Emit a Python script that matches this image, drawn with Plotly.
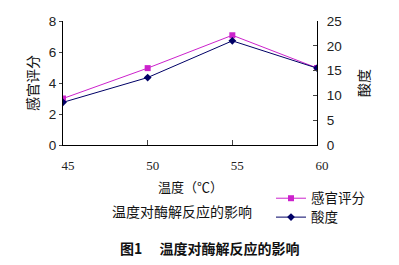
import plotly.graph_objects as go

temps = [45, 50, 55, 60]
sensory = [3.0, 4.96, 7.08, 4.97]
acidity = [8.6, 13.6, 21.0, 15.5]
left_ticks = [0, 2, 4, 6, 8]
right_ticks = [0, 5, 10, 15, 20, 25]

W, H = 399, 265
L, R, T, B = 63, 317, 20.7, 145.3
pw, ph = R - L, B - T

def px(x):
    return (x - L) / pw

def py(y):
    return (B - y) / ph

cjk = "Noto Sans CJK SC"
fig = go.Figure()
fig.add_trace(go.Scatter(x=temps, y=sensory, name="感官评分", mode="lines+markers",
                         line=dict(color="#CC22CC", width=1), legend="legend",
                         marker=dict(symbol="square", size=6, color="#CC22CC")))
fig.add_trace(go.Scatter(x=temps, y=acidity, name="酸度", mode="lines+markers", yaxis="y2",
                         line=dict(color="#000066", width=1), legend="legend2",
                         marker=dict(symbol="diamond", size=6, color="#000066")))

leg_common = dict(xanchor="left", yanchor="middle",
                  font=dict(family=cjk, size=13.5, color="#111"),
                  bgcolor="rgba(0,0,0,0)", itemwidth=30, borderwidth=0)

fig.update_layout(
    width=W, height=H,
    margin=dict(l=L, r=W - R, t=T, b=H - B),
    paper_bgcolor="white", plot_bgcolor="white",
    showlegend=True,
    legend=dict(x=px(271), y=py(199), **leg_common),
    legend2=dict(x=px(271), y=py(218), **leg_common),
    xaxis=dict(range=[45, 60], tickvals=temps, ticks="inside", ticklen=5,
               showline=True, linecolor="black", linewidth=1, showgrid=False, zeroline=False,
               tickfont=dict(family="Liberation Serif", size=13, color="#222"),
               ticklabelstandoff=8, ticklabelshift=5),
    yaxis=dict(range=[0, 8], tickvals=left_ticks, ticks="outside", ticklen=3,
               showline=True, linecolor="black", linewidth=1, showgrid=False, zeroline=False,
               tickfont=dict(family="Liberation Sans", size=13.5, color="#222"),
               title=dict(text="感官评分", font=dict(family=cjk, size=14, color="#111"), standoff=6)),
    yaxis2=dict(range=[0, 25], tickvals=right_ticks, ticks="inside", ticklen=4,
                overlaying="y", side="right",
                showline=True, linecolor="black", linewidth=1, showgrid=False, zeroline=False,
                tickfont=dict(family="Liberation Sans", size=13.5, color="#222"),
                ticklabelstandoff=6,
                title=dict(text="酸度", font=dict(family=cjk, size=14, color="#111"), standoff=18)),
    annotations=[
        dict(text="温度（℃）", x=px(190), y=py(187), xref="paper", yref="paper",
             xanchor="center", yanchor="middle",
             showarrow=False, font=dict(family=cjk, size=13, color="#111")),
        dict(text="温度对酶解反应的影响", x=px(182), y=py(212), xref="paper", yref="paper",
             xanchor="center", yanchor="middle",
             showarrow=False, font=dict(family=cjk, size=14, color="#111")),
        dict(text="<b>图1　 温度对酶解反应的影响</b>", x=px(209), y=py(249), xref="paper", yref="paper",
             xanchor="center", yanchor="middle",
             showarrow=False, font=dict(family=cjk, size=14, color="#111")),
    ],
)
fig.write_html("out.html")
